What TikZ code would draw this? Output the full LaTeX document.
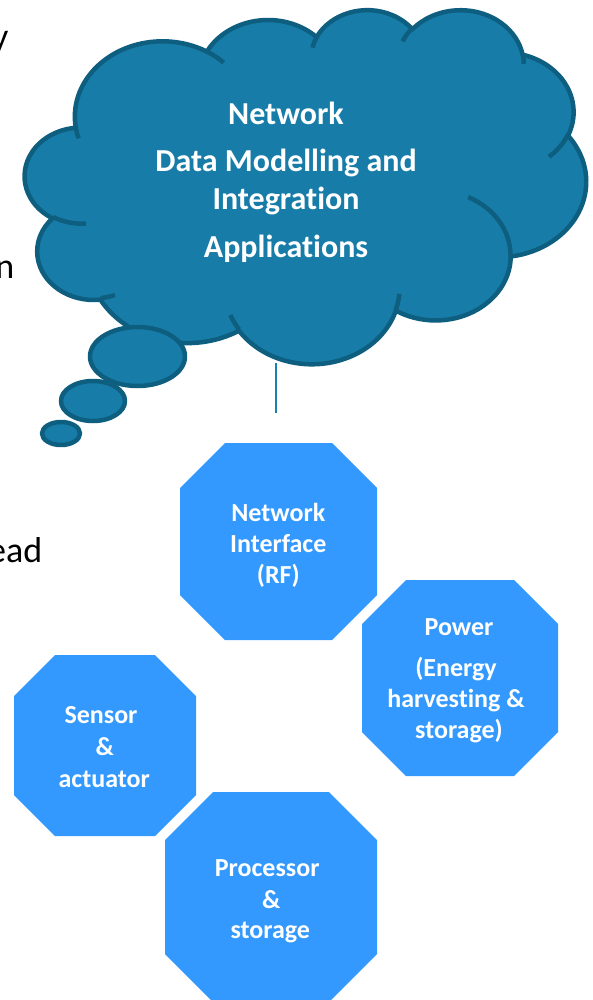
\documentclass[tikz,border=0pt]{standalone}
\usepackage{fontspec}
\setmainfont{Carlito}[Ligatures=NoCommon]
\definecolor{cloudfill}{RGB}{23,125,168}
\definecolor{cloudline}{RGB}{14,94,128}
\definecolor{linkline}{RGB}{26,128,178}
\definecolor{octfill}{RGB}{51,153,255}
% convert an OOXML arcTo (visual angles) into a TikZ arc style
\newcommand\ooprep[5]{%
  \pgfmathsetmacro\ooS{atan2(sin(#4)*#2, cos(#4)*#3)}%
  \pgfmathsetmacro\ooE{atan2(sin(#4+#5)*#2, cos(#4+#5)*#3)}%
  \pgfmathsetmacro\ooD{\ooE-\ooS}%
  \pgfmathsetmacro\ooD{(\ooD<0) ? (\ooD+360) : \ooD}%
  \pgfmathsetmacro\ooE{\ooS+\ooD}%
  \edef\ootmp{\noexpand\tikzset{#1/.style={start angle=\ooS, end angle=\ooE, x radius=#2, y radius=#3}}}%
  \ootmp}
\newcommand\octa[5]{\fill[octfill] ({#1+#5},#2) -- ({#3-#5},#2) -- (#3,{#2+#5}) -- (#3,{#4-#5}) -- ({#3-#5},#4) -- ({#1+#5},#4) -- (#1,{#4-#5}) -- (#1,{#2+#5}) -- cycle;}
\tikzset{
  cloudshape/.style={fill=cloudfill, draw=cloudline, line width=4.5pt, line join=round},
  cloudinner/.style={draw=cloudline, line width=4.5pt},
  ctext/.style={anchor=base, inner sep=0pt, text=white, font=\bfseries\fontsize{32}{38}\selectfont},
  otext/.style={anchor=base, inner sep=0pt, text=white, font=\bfseries\fontsize{26}{31}\selectfont},
  btext/.style={anchor=base east, inner sep=0pt, text=black, font=\fontsize{36}{43}\selectfont},
}
\begin{document}
\begin{tikzpicture}[x=1pt, y=1pt, yscale=-1]
\useasboundingbox (0,0) rectangle (592,1000);
% outer cloud arcs
\ooprep{ooA}{67.53}{91.90}{-190.4875}{123.7805}
\ooprep{ooB}{53.33}{72.67}{-144.1024}{89.9452}
\ooprep{ooC}{43.65}{59.45}{-145.8079}{99.7230}
\ooprep{ooD}{48.57}{65.95}{-130.9861}{117.2417}
\ooprep{ooE}{53.33}{72.73}{-78.7089}{109.0269}
\ooprep{ooF}{67.75}{92.20}{-46.2673}{130.2690}
\ooprep{ooG}{57.85}{78.67}{0.6250}{114.0333}
\ooprep{ooH}{67.52}{92.15}{22.4516}{115.1726}
\ooprep{ooI}{77.20}{105.43}{66.2426}{75.7110}
\ooprep{ooJ}{43.60}{59.18}{-274.9421}{146.7356}
\ooprep{ooK}{43.45}{59.45}{-246.8285}{152.5189}
% inner cloud strokes
\ooprep{ooa}{43.45}{59.45}{86.7420}{26.4295}
\ooprep{oob}{43.60}{59.18}{73.6105}{11.4475}
\ooprep{ooc}{67.52}{92.15}{137.6242}{14.0811}
\ooprep{ood}{67.52}{92.15}{6.4533}{15.9984}
\ooprep{ooe}{57.85}{78.67}{-70.2924}{70.9174}
\ooprep{oof}{53.33}{72.73}{30.3180}{27.7515}
\ooprep{oog}{48.57}{65.95}{-13.7443}{14.8589}
\ooprep{ooh}{48.57}{65.95}{-149.1815}{18.1954}
\ooprep{ooi}{43.65}{59.45}{-163.4943}{17.6864}
\ooprep{ooj}{67.53}{91.90}{-66.7070}{12.3194}
\ooprep{ook}{67.53}{91.90}{157.6544}{11.8582}

% cut-off slide text at the left edge
\node[btext] (f1) at (8.5,49) {y};
\node[btext] (f2) at (14.5,278) {n};
\node[btext] (f3) at (42.5,562) {ead};

% thought cloud
\begin{scope}[shift={(25,9)}, xscale=1.29861, yscale=0.81944]
  \path[cloudshape] (39.00,143.70) arc[ooA] arc[ooB] arc[ooC] arc[ooD] arc[ooE] arc[ooF]
    arc[ooG] arc[ooH] arc[ooI] arc[ooJ] arc[ooK] -- cycle;
\end{scope}
\path[cloudshape] (137.5,356.5) ellipse [x radius=47.5, y radius=29.5];
\path[cloudshape] (93,401) ellipse [x radius=32, y radius=20];
\path[cloudshape] (61,433.5) ellipse [x radius=19, y radius=11.5];
\begin{scope}[shift={(25,9)}, xscale=1.29861, yscale=0.81944]
  \path[cloudinner] (46.93,261.77) arc[ooa] (69.28,348.99) arc[oob]
    (164.78,390.90) arc[ooc] (288.27,347.51) arc[ood] (341.29,229.54) arc[ooe]
    (417.98,153.54) arc[oof] (383.24,54.26) arc[oog] (290.78,39.52) arc[ooh]
    (221.41,47.20) arc[ooi] (140.00,51.92) arc[ooj] (41.27,157.89) arc[ook];
\end{scope}
\node[ctext] (c1) at (286,125) {Network};
\node[ctext] (c2) at (286,172) {Data Modelling and};
\node[ctext] (c3) at (286,210) {Integration};
\node[ctext] (c4) at (286,258) {Applications};

% connector
\coordinate (lt) at (276,363);
\coordinate (lb) at (276,413);
\draw[linkline, line width=1.5pt] (lt) -- (lb);

% octagons
\octa{180}{443}{377}{640}{45}
\octa{362}{580}{558}{776}{44}
\octa{14}{655}{196}{836}{41}
\octa{165}{792}{377}{1002}{48}

\node[otext] (n1) at (278.3,521) {Network};
\node[otext] (n2) at (278.3,552) {Interface};
\node[otext] (n3) at (278.3,583) {(RF)};

\node[otext] (p1) at (459,635) {Power};
\node[otext] (p2) at (456,676) {(Energy};
\node[otext] (p3) at (456,707) {harvesting \&};
\node[otext] (p4) at (459,738) {storage)};

\node[otext] (s1) at (101,723) {Sensor};
\node[otext] (s2) at (104.7,755) {\&};
\node[otext] (s3) at (104.2,787) {actuator};

\node[otext] (r1) at (267.2,876) {Processor};
\node[otext] (r2) at (271.3,908) {\&};
\node[otext] (r3) at (270.3,938) {storage};
\end{tikzpicture}
\end{document}
